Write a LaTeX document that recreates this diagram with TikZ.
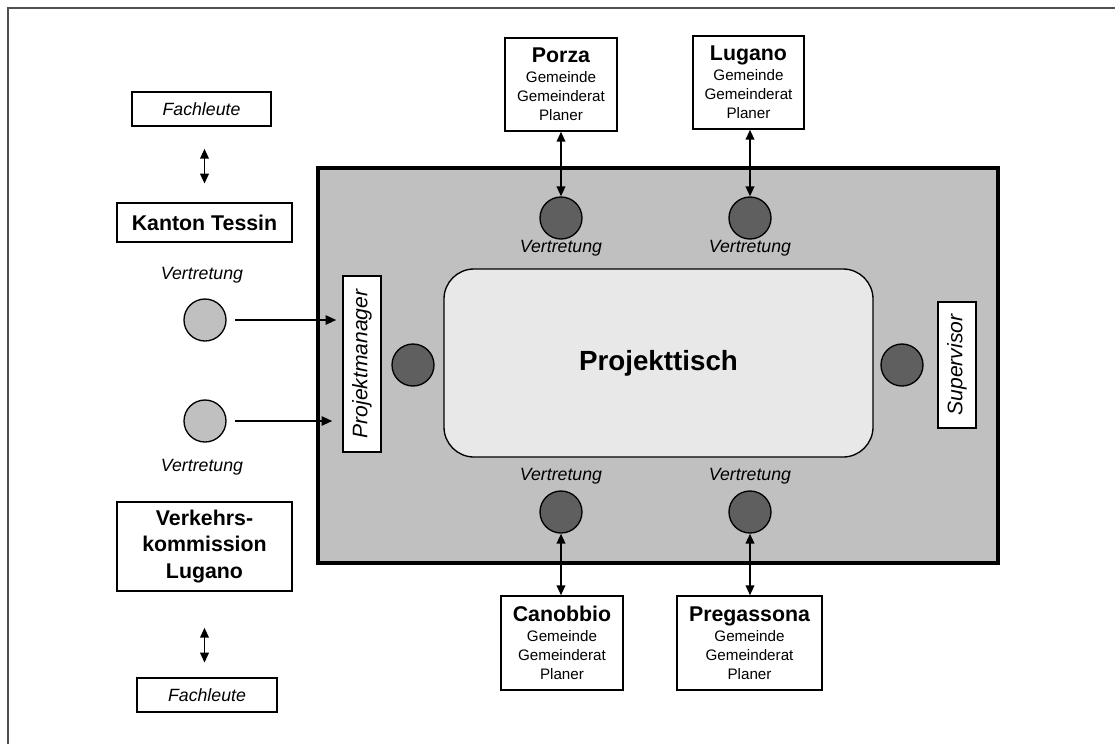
\documentclass[tikz,border=0pt]{standalone}
\usepackage{fontspec}
\setmainfont{Liberation Sans}
\usetikzlibrary{arrows.meta}
\definecolor{boardgray}{HTML}{C0C0C0}
\definecolor{tablegray}{HTML}{E8E8E8}
\definecolor{darkc}{HTML}{5F5F5F}
\definecolor{framegray}{HTML}{505050}
\newcommand{\titlef}{\fontsize{16}{19}\selectfont\bfseries}
\newcommand{\subf}{\fontsize{11.4}{14.2}\selectfont}
\begin{document}
\begin{tikzpicture}[x=0.75pt,y=-0.75pt,
  box/.style={draw, line width=1.1pt, fill=white, inner sep=0pt, align=center},
  ital/.style={font=\fontsize{13.3}{16}\selectfont\itshape, inner sep=0pt},
  munibox/.style={box, font=\subf},
  circ/.style={circle, draw, line width=1pt, minimum size=31.5pt, inner sep=0pt},
  darkcirc/.style={circ, fill=darkc},
  lightcirc/.style={circ, fill=boardgray},
  arr/.style={-{Triangle[length=8pt,width=7pt]}, line width=1.3pt},
  dbl/.style={{Triangle[length=7.5pt,width=6.5pt]}-{Triangle[length=7.5pt,width=6.5pt]}, line width=1.3pt},
  rolebox/.style={box, rotate=90, font=\fontsize{15.8}{18}\selectfont\itshape, minimum height=28.5pt}
]
\useasboundingbox (0,0) rectangle (1115,744);
% outer frame (only top and left edges visible)
\draw[framegray, line width=0.8pt] (8,744) -- (8,8) -- (1115,8);

% board and table
\node[draw, line width=3.2pt, fill=boardgray, inner sep=0pt,
      minimum width=510pt, minimum height=296.25pt] (board) at (658,365.5) {};
\node[draw, line width=1pt, fill=tablegray, rounded corners=22.5pt, inner sep=0pt,
      minimum width=321.75pt, minimum height=141pt,
      font=\fontsize{20.8}{24}\selectfont\bfseries] (table) at (658.5,363) {Projekttisch};

% role boxes
\node[rolebox, minimum width=132pt] (pm) at (362,364) {Projektmanager};
\node[rolebox, minimum width=94.5pt] (sup) at (957,365) {Supervisor};

% circles on the board
\node[darkcirc] (cPM) at (413,365) {};
\node[darkcirc] (cSup) at (902,365) {};
\node[darkcirc] (cPorza) at (561,218) {};
\node[darkcirc] (cLugano) at (750,218) {};
\node[darkcirc] (cCan) at (561,512) {};
\node[darkcirc] (cPreg) at (750,512) {};

% Vertretung labels on the board
\node[ital] (vPorza) at (561,248) {Vertretung};
\node[ital] (vLugano) at (750,248) {Vertretung};
\node[ital] (vCan) at (561,476) {Vertretung};
\node[ital] (vPreg) at (750,476) {Vertretung};

% municipality boxes
\node[munibox, minimum width=84pt, minimum height=69.75pt] (porza) at (561,84.5)
  {{\titlef Porza}\\[1pt]Gemeinde\\Gemeinderat\\Planer};
\node[munibox, minimum width=83.25pt, minimum height=69.75pt] (lugano) at (748.5,82.5)
  {{\titlef Lugano}\\[1pt]Gemeinde\\Gemeinderat\\Planer};
\node[munibox, minimum width=91.5pt, minimum height=70.5pt] (canobbio) at (562,643)
  {{\titlef Canobbio}\\[1pt]Gemeinde\\Gemeinderat\\Planer};
\node[munibox, minimum width=108.75pt, minimum height=70.5pt] (preg) at (749.5,643)
  {{\titlef Pregassona}\\[1pt]Gemeinde\\Gemeinderat\\Planer};

\draw[dbl] (porza.south) -- (cPorza.north);
\draw[dbl] (cLugano |- lugano.south) -- (cLugano.north);
\draw[dbl] (cCan.south) -- (cCan |- canobbio.north);
\draw[dbl] (cPreg.south) -- (cPreg |- preg.north);

% left column
\node[box, ital, inner sep=0pt, minimum width=104.25pt, minimum height=25.5pt] (fachT) at (201.5,109) {Fachleute};
\node[box, font=\titlef, minimum width=131.25pt, minimum height=29.25pt] (kanton) at (204.5,222.5) {Kanton Tessin};
\node[ital] (vK) at (202,275) {Vertretung};
\node[lightcirc] (cK) at (205,320) {};
\node[lightcirc] (cV) at (205,421) {};
\node[ital] (vV) at (202,467) {Vertretung};
\node[box, font=\fontsize{16}{20}\selectfont\bfseries, minimum width=131.25pt, minimum height=66.75pt] (verkehr) at (204.5,546.5)
  {Verkehrs-\\kommission\\Lugano};
\node[box, ital, inner sep=0pt, minimum width=105pt, minimum height=25.5pt] (fachB) at (207,695) {Fachleute};

\draw[dbl, shorten <=16.5pt, shorten >=14pt] (kanton |- fachT.south) -- (kanton.north);
\draw[dbl, shorten <=27pt, shorten >=11pt] (verkehr.south) -- (verkehr |- fachB.north);

\draw[arr, shorten <=6.5pt, shorten >=4.5pt] (cK.east) -- (cK -| pm.north);
\draw[arr, shorten <=6.5pt, shorten >=7.5pt] (cV.east) -- (cV -| pm.north);
\end{tikzpicture}
\end{document}
